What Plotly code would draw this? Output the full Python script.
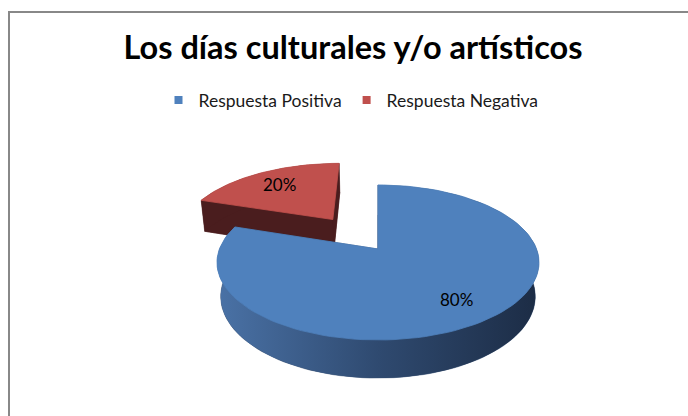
import math
import plotly.graph_objects as go

# ---- data ----
labels = ["Respuesta Positiva", "Respuesta Negativa"]
values = [80, 20]
pulls = [0.0, 0.52]          # explode distance (radius units)
top_colors = ["#4f81bd", "#c0504d"]
title_text = "Los días culturales y/o artísticos"

# ---- 3D pie projection (style parameters) ----
CX, CY = 378.0, 249.0        # screen position of pie centre (axis units)
F, D = 804.0, 5.07           # focal scale and camera distance
PHI = math.asin(0.474)       # camera tilt
S, C = math.sin(PHI), math.cos(PHI)
H = 0.247                    # pie thickness (radius units)
FONT = "Lato"


def proj(x, y, z):
    depth = D + C * z - S * y
    return CX + F * x / depth, CY - F * (C * y + S * z) / depth


def arc(ox, oz, t1, t2, y, n=120):
    pts = []
    for k in range(n + 1):
        t = math.radians(t1 + (t2 - t1) * k / n)
        pts.append(proj(ox + math.sin(t), y, oz + math.cos(t)))
    return pts


def poly(pts, **kw):
    xs = [p[0] for p in pts] + [pts[0][0]]
    ys = [p[1] for p in pts] + [pts[0][1]]
    return go.Scatter(x=xs, y=ys, mode="lines", fill="toself",
                      hoverinfo="skip", showlegend=False, **kw)


total = float(sum(values))
angles = []
acc = 0.0
for v in values:
    a1 = acc / total * 360.0
    acc += v
    a2 = acc / total * 360.0
    angles.append((a1, a2))

wall_style = [
    dict(fillcolor="#2e486d", line=dict(width=0),
         fillgradient=dict(type="horizontal",
                           colorscale=[[0, "#4a72a6"], [0.5, "#2f4a70"], [1, "#1c2c45"]])),
    dict(fillcolor="#4a1d1e", line=dict(width=0)),
]
hidden_colors = ["#2e486d", "#4a1d1e"]

fig = go.Figure()
annotations = []

# draw back slice (red) first, then front slice (blue)
for i in [1, 0]:
    a1, a2 = angles[i]
    am = math.radians((a1 + a2) / 2)
    ox, oz = pulls[i] * math.sin(am), pulls[i] * math.cos(am)
    apex_t = proj(ox, 0, oz)
    apex_b = proj(ox, -H, oz)
    top_arc = arc(ox, oz, a1, a2, 0)
    bot_arc = arc(ox, oz, a1, a2, -H)
    hc = hidden_colors[i]
    fig.add_trace(poly([apex_b] + bot_arc, fillcolor=hc, line=dict(width=0.5, color=hc)))
    fig.add_trace(poly([apex_t, top_arc[0], bot_arc[0], apex_b],
                       fillcolor=hc, line=dict(width=0.5, color=hc)))
    fig.add_trace(poly([apex_t, top_arc[-1], bot_arc[-1], apex_b],
                       fillcolor=hc, line=dict(width=0.5, color=hc)))
    fig.add_trace(poly(top_arc + bot_arc[::-1], **wall_style[i]))
    fig.add_trace(poly([apex_t] + top_arc, fillcolor=top_colors[i],
                       line=dict(width=0.8, color=top_colors[i])))
    rho = 0.75 if pulls[i] == 0 else 0.72
    lx, ly = proj(ox + rho * math.sin(am), 0, oz + rho * math.cos(am))
    annotations.append(dict(x=lx, y=ly, xref="x", yref="y", showarrow=False,
                            text=f"{round(100 * values[i] / total)}%",
                            font=dict(family=FONT, size=17, color="#000000")))

# legend entries
for lab, col in zip(labels, top_colors):
    fig.add_trace(go.Scatter(x=[None], y=[None], mode="markers", name=lab,
                             marker=dict(symbol="square", size=8, color=col)))

fig.update_layout(
    width=688, height=416,
    margin=dict(l=0, r=0, t=0, b=0),
    paper_bgcolor="white", plot_bgcolor="white",
    xaxis=dict(range=[0, 688], visible=False, fixedrange=True),
    yaxis=dict(range=[416, 0], visible=False, fixedrange=True),
    title=dict(text=f"<b>{title_text}</b>", x=353 / 688, xanchor="center",
               y=1 - 48 / 416, yanchor="middle",
               font=dict(family=FONT, size=32.5, color="#000000")),
    legend=dict(orientation="h", x=351 / 688, xanchor="center",
                y=1 - 100 / 416, yanchor="middle",
                font=dict(family=FONT, size=17.5, color="#1a1a1a"),
                itemwidth=30, bgcolor="rgba(0,0,0,0)"),
    shapes=[dict(type="rect", xref="x", yref="y", x0=9, y0=12, x1=720, y1=450,
                 line=dict(color="#888888", width=2), layer="below")],
    annotations=annotations,
    showlegend=True,
)

fig.write_html("out.html", config={"displayModeBar": False},
               post_script="document.body.style.margin='0';")
